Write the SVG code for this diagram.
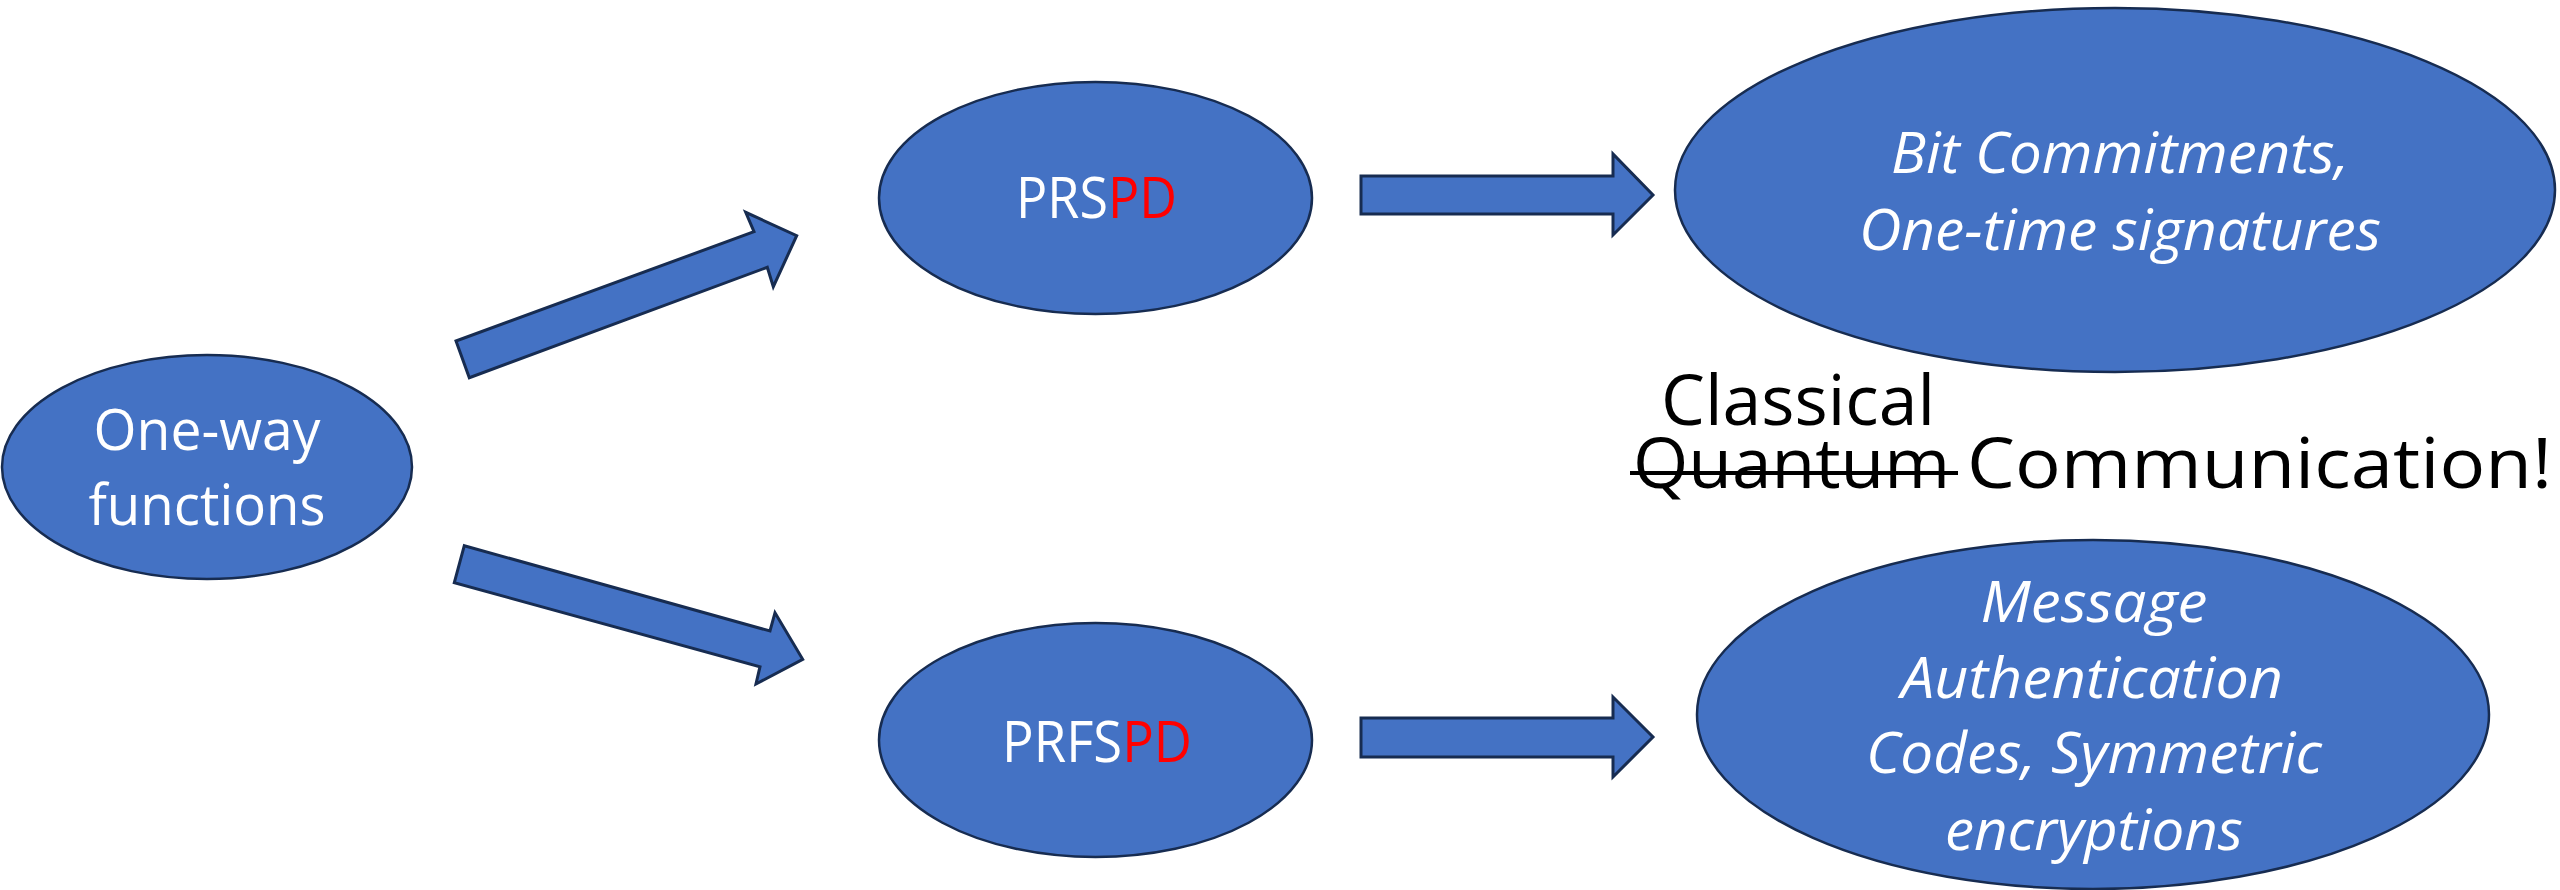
<svg xmlns="http://www.w3.org/2000/svg" width="2560" height="890" viewBox="0 0 2560 890">
<style>
.node{fill:#4472C4;stroke:#172C51;stroke-width:2.5}
.arrow{fill:#4472C4;stroke:#172C51;stroke-width:3;stroke-linejoin:miter}
.wt{font-family:"Open Sans","Liberation Sans",sans-serif;fill:#FFFFFF;font-size:56px}
.it{font-style:italic}
.red{fill:#FF0000}
.cap{font-family:"Open Sans","Liberation Sans",sans-serif;fill:#000000;font-size:70px}
</style>
<rect width="2560" height="890" fill="#FFFFFF"/>
<g id="connectors">
<polygon class="arrow" points="469.3,377.7 456,341 754,231.7 745.7,212.3 796.7,235.7 773.3,286.7 767.3,267.3"/>
<polygon class="arrow" points="464.3,545.7 770,631 775,612.7 802.7,659.3 756,684 760,666.7 454.3,582.7"/>
<polygon class="arrow" points="1361,176 1613,176 1613,154 1653,195 1613,235 1613,214 1361,214"/>
<polygon class="arrow" points="1361,718 1613,718 1613,697 1653,737 1613,777 1613,757 1361,757"/>
</g>
<g id="owf">
<ellipse class="node" cx="207" cy="467" rx="205" ry="112"/>
<text class="wt" x="207" y="450" text-anchor="middle" textLength="227" lengthAdjust="spacingAndGlyphs">One-way</text>
<text class="wt" x="207" y="525" text-anchor="middle" textLength="237" lengthAdjust="spacingAndGlyphs">functions</text>
</g>
<g id="prspd">
<ellipse class="node" cx="1095.5" cy="198" rx="216.5" ry="116"/>
<text class="wt" x="1016" y="218" textLength="161" lengthAdjust="spacingAndGlyphs">PRS<tspan class="red">PD</tspan></text>
</g>
<g id="prfspd">
<ellipse class="node" cx="1095.5" cy="740" rx="216.5" ry="117"/>
<text class="wt" x="1002" y="762" textLength="190" lengthAdjust="spacingAndGlyphs">PRFS<tspan class="red">PD</tspan></text>
</g>
<g id="bitcommit">
<ellipse class="node" cx="2115" cy="190" rx="440" ry="182"/>
<text class="wt it" x="2120" y="173" text-anchor="middle" textLength="458" lengthAdjust="spacingAndGlyphs">Bit Commitments,</text>
<text class="wt it" x="2120" y="250" text-anchor="middle" textLength="522" lengthAdjust="spacingAndGlyphs">One-time signatures</text>
</g>
<g id="mac">
<ellipse class="node" cx="2093" cy="714.5" rx="396" ry="174.5"/>
<text class="wt it" x="2094" y="622" text-anchor="middle" textLength="227" lengthAdjust="spacingAndGlyphs">Message</text>
<text class="wt it" x="2092" y="698" text-anchor="middle" textLength="382" lengthAdjust="spacingAndGlyphs">Authentication</text>
<text class="wt it" x="2094" y="773" text-anchor="middle" textLength="456" lengthAdjust="spacingAndGlyphs">Codes, Symmetric</text>
<text class="wt it" x="2094" y="850" text-anchor="middle" textLength="298" lengthAdjust="spacingAndGlyphs">encryptions</text>
</g>
<g id="caption">
<text class="cap" x="1661" y="425" textLength="274" lengthAdjust="spacingAndGlyphs">Classical</text>
<text class="cap" x="1633" y="488" textLength="317" lengthAdjust="spacingAndGlyphs">Quantum</text>
<line x1="1630" y1="473" x2="1958" y2="473" stroke="#000000" stroke-width="4"/>
<text class="cap" x="1967" y="488" textLength="585" lengthAdjust="spacingAndGlyphs">Communication!</text>
</g>
</svg>
